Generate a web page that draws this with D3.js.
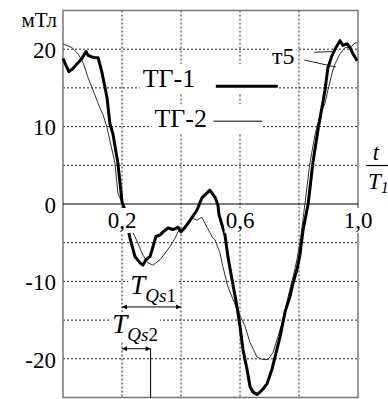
<!DOCTYPE html>
<html>
<head>
<meta charset="utf-8">
<script src="https://cdn.jsdelivr.net/npm/d3@7"></script>
<style>
  body { margin: 0; background: #fff; }
</style>
</head>
<body>
<div id="chart"></div>
<script>
// ТГ-1 (thick) and ТГ-2 (thin), t/T1 vs мТл
var t1 = [0, 0.010, 0.020, 0.034, 0.047, 0.064, 0.078, 0.085, 0.098, 0.108, 0.119, 0.132, 0.149, 0.159, 0.169, 0.186, 0.200, 0.210, 0.220, 0.227, 0.244, 0.261, 0.271, 0.281, 0.295, 0.305, 0.315, 0.329, 0.339, 0.356, 0.373, 0.390, 0.400, 0.414, 0.431, 0.454, 0.471, 0.498, 0.515, 0.525, 0.529, 0.549, 0.559, 0.573, 0.590, 0.600, 0.610, 0.624, 0.634, 0.644, 0.658, 0.668, 0.678, 0.692, 0.708, 0.725, 0.736, 0.753, 0.769, 0.780, 0.793, 0.803, 0.814, 0.831, 0.847, 0.864, 0.878, 0.888, 0.898, 0.912, 0.925, 0.939, 0.949, 0.963, 0.973, 0.983, 0.997];
var v1 = [18.8, 17.9, 17.1, 17.5, 18.1, 18.8, 19.7, 19.2, 19.0, 18.9, 18.9, 17.0, 13.8, 10.4, 9.1, 5.3, 0.3, -0.8, -3.1, -4.4, -6.8, -7.6, -7.9, -7.2, -6.8, -5.5, -4.2, -4.0, -3.6, -3.1, -3.3, -3.0, -3.6, -3.0, -2.1, -0.8, 0.8, 1.8, 0.9, -0.1, -1.4, -4.0, -6.8, -9.8, -13.3, -15.8, -18.8, -21.4, -23.6, -24.3, -24.6, -24.3, -23.9, -23.2, -21.4, -18.8, -17.1, -13.9, -12.0, -10.2, -8.5, -6.6, -3.3, 0, 5.3, 9.5, 12.5, 14.7, 17.6, 19.2, 20.2, 21.1, 20.5, 20.7, 20.2, 19.4, 18.5];

var t2 = [0, 0.031, 0.051, 0.068, 0.085, 0.102, 0.119, 0.136, 0.149, 0.166, 0.176, 0.186, 0.203, 0.220, 0.244, 0.271, 0.288, 0.305, 0.329, 0.349, 0.366, 0.380, 0.390, 0.407, 0.424, 0.437, 0.454, 0.471, 0.488, 0.508, 0.515, 0.532, 0.542, 0.559, 0.590, 0.617, 0.634, 0.658, 0.678, 0.695, 0.712, 0.729, 0.746, 0.763, 0.780, 0.793, 0.807, 0.820, 0.837, 0.854, 0.871, 0.888, 0.898, 0.912, 0.922, 0.939, 0.956, 0.973, 0.990, 1.0];
var v2 = [20.7, 20.2, 19.4, 18.3, 16.3, 14.7, 13.0, 11.5, 9.9, 7.0, 5.3, 1.4, 0, -2.3, -4.2, -6.6, -7.6, -7.9, -7.2, -6.2, -5.3, -4.4, -3.6, -3.1, -2.4, -1.8, -2.1, -1.7, -3.0, -4.4, -4.6, -6.3, -8.1, -10.7, -13.6, -15.8, -17.9, -19.8, -20.1, -20.1, -19.2, -17.1, -14.9, -12.0, -9.4, -7.2, -4.0, 0, 5.3, 8.9, 11.5, 13.0, 14.7, 16.9, 18.1, 19.4, 20.2, 20.2, 20.8, 20.8];

var yTicks = [-20, -10, 0, 10, 20];
var yGrid = [-20, -15, -10, -5, 5, 10, 15, 20];
var xGrid = [0.2, 0.4, 0.6, 0.8];
var xTickVals = [0.2, 0.6, 1.0];
var xTickLabels = ["0,2", "0,6", "1,0"];
var seriesNames = ["ТГ-1", "ТГ-2"];

var FONT = "'Liberation Serif', serif";
var width = 388, height = 399;
var x = d3.scaleLinear().domain([0, 1]).range([63, 358]);
var y = d3.scaleLinear().domain([-25, 25]).range([397.5, 10.5]);

var svg = d3.select("#chart").append("svg")
  .attr("width", width).attr("height", height);

var defs = svg.append("defs");
defs.append("marker")
  .attr("id", "arr")
  .attr("viewBox", "0 0 10 10")
  .attr("refX", 10).attr("refY", 5)
  .attr("markerWidth", 7).attr("markerHeight", 5)
  .attr("markerUnits", "userSpaceOnUse")
  .attr("orient", "auto-start-reverse")
  .append("path").attr("d", "M0,0L10,5L0,10Z").attr("fill", "#000");

// grid
svg.selectAll(".hg").data(yGrid).enter().append("line")
  .attr("x1", x(0)).attr("x2", x(1))
  .attr("y1", d => y(d)).attr("y2", d => y(d))
  .attr("stroke", "#222").attr("stroke-width", 1).attr("stroke-dasharray", "2,2");
svg.selectAll(".vg").data(xGrid).enter().append("line")
  .attr("x1", d => x(d)).attr("x2", d => x(d))
  .attr("y1", y(25)).attr("y2", y(-25))
  .attr("stroke", "#222").attr("stroke-width", 1).attr("stroke-dasharray", "2,2");

// frame
svg.append("rect")
  .attr("x", x(0)).attr("y", y(25))
  .attr("width", x(1) - x(0)).attr("height", y(-25) - y(25))
  .attr("fill", "none").attr("stroke", "#777").attr("stroke-width", 1.5);

// zero line
svg.append("line")
  .attr("x1", x(0)).attr("x2", x(1)).attr("y1", y(0)).attr("y2", y(0))
  .attr("stroke", "#000").attr("stroke-width", 1.2);

// y axis labels
var yAxis = svg.append("g")
  .attr("transform", "translate(" + x(0) + ",0)")
  .call(d3.axisLeft(y).tickValues(yTicks).tickSize(0).tickPadding(7).tickFormat(d => String(d)));
yAxis.attr("font-family", FONT);
yAxis.select(".domain").remove();
yAxis.selectAll("text")
  .style("font-size", "23px").attr("fill", "#000").attr("dy", "0.36em");

svg.append("text").attr("x", 57).attr("y", 27)
  .attr("text-anchor", "end").style("font-size", "21px").text("мТл");

// curves
var line = d3.line().x(d => x(d[0])).y(d => y(d[1]));
var pts1 = t1.map((t, i) => [t, v1[i]]);
var pts2 = t2.map((t, i) => [t, v2[i]]);
svg.append("path").datum(pts2).attr("d", line)
  .attr("fill", "none").attr("stroke", "#333").attr("stroke-width", 1);
svg.append("path").datum(pts1).attr("d", line)
  .attr("fill", "none").attr("stroke", "#000").attr("stroke-width", 3)
  .attr("stroke-linejoin", "round");

// helper: text with white box behind
function boxed(g, pad) {
  g.selectAll("text").style("font-family", FONT);
  var bb = g.node().getBBox();
  g.insert("rect", ":first-child")
    .attr("x", bb.x - pad[0]).attr("y", bb.y - pad[1])
    .attr("width", bb.width + 2 * pad[0]).attr("height", bb.height + 2 * pad[1])
    .attr("fill", "#fff");
}

// x tick labels
xTickVals.forEach(function (v, i) {
  var g = svg.append("g");
  g.append("text").attr("x", x(v)).attr("y", 228)
    .attr("text-anchor", "middle").style("font-size", "23px").text(xTickLabels[i]);
  boxed(g, [1, 0]);
});

// t / T1
var ax = svg.append("g");
ax.append("text").attr("x", 376).attr("y", 160).attr("text-anchor", "middle")
  .style("font-size", "23px").style("font-style", "italic").text("t");
ax.append("line").attr("x1", 366).attr("x2", 388).attr("y1", 165.5).attr("y2", 165.5)
  .attr("stroke", "#000").attr("stroke-width", 1.2);
var tt = ax.append("text").attr("x", 368).attr("y", 189)
  .style("font-size", "23px").style("font-style", "italic");
tt.append("tspan").text("T");
tt.append("tspan").attr("dy", 4).style("font-size", "16px").text("1");

// legend
var legY = [16.4, 11.2];
var legTextX = [0.27, 0.31];
var legLine = [[0.518, 0.728], [0.51, 0.676]];
var legOffset = [-1.2, -0.5];
seriesNames.forEach(function (name, i) {
  var g = svg.append("g");
  g.append("text").attr("x", x(legTextX[i])).attr("y", y(legY[i]) + 10)
    .style("font-size", "26px").text(name);
  boxed(g, [3, 0]);
  var r = g.select("rect");
  r.attr("width", x(legLine[i][1]) - +r.attr("x"));
  g.append("line")
    .attr("x1", x(legLine[i][0])).attr("x2", x(legLine[i][1]))
    .attr("y1", y(legY[i] + legOffset[i])).attr("y2", y(legY[i] + legOffset[i]))
    .attr("stroke", "#000").attr("stroke-width", i === 0 ? 3 : 1);
});

// т5 annotation
var t5 = svg.append("g");
t5.append("text").attr("x", 272).attr("y", 64).style("font-size", "24px").text("т5");
boxed(t5, [3, -3]);
var t5Lines = [[0.851, 19.6, 0.915, 19.7], [0.818, 18.6, 0.925, 17.7]];
t5Lines.forEach(function (d) {
  svg.append("line").attr("x1", x(d[0])).attr("y1", y(d[1]))
    .attr("x2", x(d[2])).attr("y2", y(d[3]))
    .attr("stroke", "#222").attr("stroke-width", 1);
});

// T_Qs labels
var qs = [
  { label: "1", t0: 0.2, t1: 0.4, v: -13.3, tx: 0.228, ty: -11.6 },
  { label: "2", t0: 0.2, t1: 0.297, v: -18.7, tx: 0.167, ty: -16.7 }
];
qs.forEach(function (d) {
  var g = svg.append("g");
  var tx = g.append("text").attr("x", x(d.tx)).attr("y", y(d.ty))
    .style("font-size", "27px");
  tx.append("tspan").style("font-style", "italic").text("T");
  tx.append("tspan").attr("dy", 8).style("font-size", "19px").style("font-style", "italic").text("Qs");
  tx.append("tspan").style("font-size", "19px").text(d.label);
  boxed(g, [2, -3]);
  svg.append("line").attr("x1", x(d.t0)).attr("x2", x(d.t1))
    .attr("y1", y(d.v)).attr("y2", y(d.v))
    .attr("stroke", "#000").attr("stroke-width", 1)
    .attr("marker-start", "url(#arr)").attr("marker-end", "url(#arr)");
});
svg.append("line").attr("x1", x(qs[1].t1)).attr("x2", x(qs[1].t1))
  .attr("y1", y(qs[1].v)).attr("y2", y(-25))
  .attr("stroke", "#000").attr("stroke-width", 1);

svg.selectAll("text").style("font-family", FONT);
</script>
</body>
</html>
